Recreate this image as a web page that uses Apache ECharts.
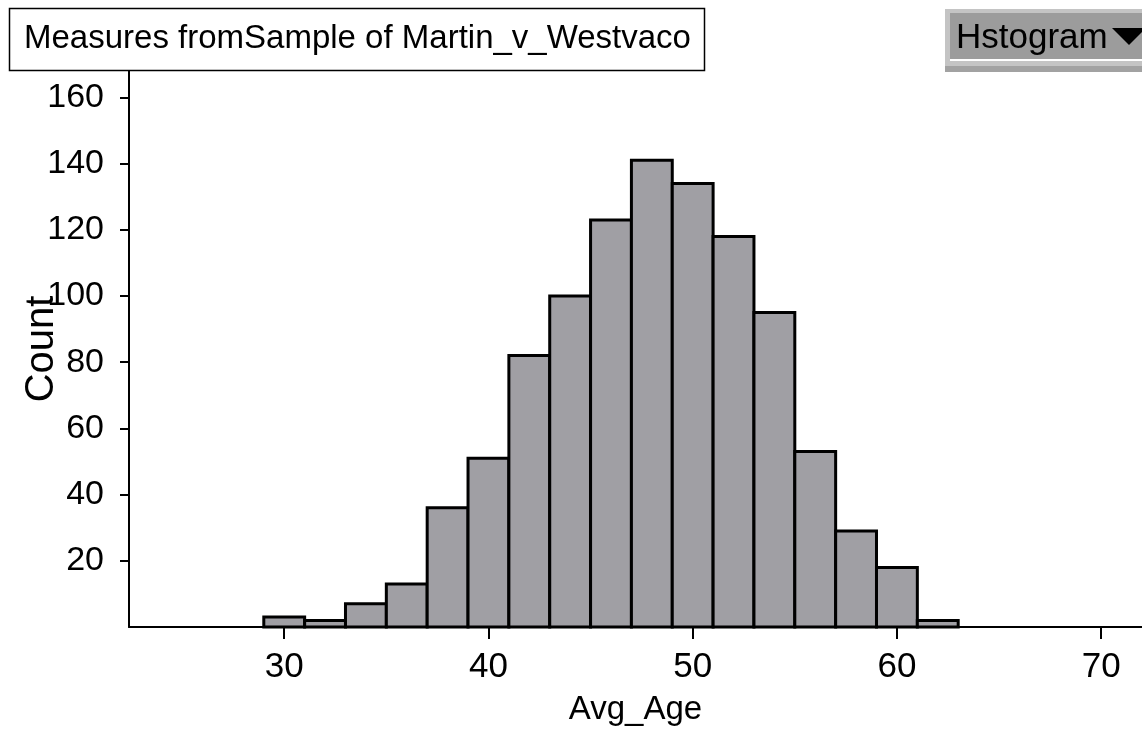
<!DOCTYPE html>
<html>
<head>
<meta charset="utf-8">
<style>
  html, body { margin: 0; padding: 0; background: #fff; }
  #chart { width: 1142px; height: 730px; }
</style>
<script src="https://cdn.jsdelivr.net/npm/echarts@6/dist/echarts.min.js"></script>
</head>
<body>
<div id="chart"></div>
<script>
// histogram bins (Avg_Age), width 2
const binStarts = [29, 31, 33, 35, 37, 39, 41, 43, 45, 47, 49, 51, 53, 55, 57, 59, 61]
const binWidth = 2
const counts = [3, 2, 7, 13, 36, 51, 82, 100, 123, 141, 134, 118, 95, 53, 29, 18, 2]
const xTicks = [30, 40, 50, 60, 70]
const yTicks = [20, 40, 60, 80, 100, 120, 140, 160]

const font = '"Liberation Sans", Arial, sans-serif'

const chart = echarts.init(document.getElementById('chart'))

chart.setOption({
  animation: false,
  grid: {
    left: 129,
    right: 0,
    top: 71,
    bottom: 103,
    containLabel: false,
    outerBoundsMode: 'none'
  },
  xAxis: {
    type: 'value',
    min: 22.4,
    max: 72,
    name: 'Avg_Age',
    nameLocation: 'middle',
    nameGap: 66,
    nameMoveOverlap: false,
    nameTextStyle: { color: '#000', fontSize: 33, fontFamily: font },
    splitLine: { show: false },
    axisLine: { show: true, onZero: false, lineStyle: { color: '#000', width: 2 } },
    axisTick: { show: true, length: 12, customValues: xTicks, lineStyle: { color: '#000', width: 2 } },
    axisLabel: { customValues: xTicks, color: '#000', fontSize: 35, fontFamily: font, margin: 23 }
  },
  yAxis: {
    type: 'value',
    min: 0,
    max: 168,
    name: 'Count',
    nameLocation: 'middle',
    nameGap: 67,
    nameMoveOverlap: false,
    nameTextStyle: { color: '#000', fontSize: 40, fontFamily: font },
    splitLine: { show: false },
    axisLine: { show: true, lineStyle: { color: '#000', width: 2 } },
    axisTick: { show: true, length: 9, customValues: yTicks, lineStyle: { color: '#000', width: 2 } },
    axisLabel: { customValues: yTicks, color: '#000', fontSize: 34, fontFamily: font, margin: 25 }
  },
  series: [
    {
      type: 'custom',
      data: binStarts.map((s, i) => [s, s + binWidth, counts[i]]),
      encode: { x: [0, 1], y: 2 },
      renderItem: function (params, api) {
        const p0 = api.coord([api.value(0), api.value(2)])
        const p1 = api.coord([api.value(1), 0])
        return {
          type: 'rect',
          shape: { x: p0[0], y: p0[1], width: p1[0] - p0[0], height: p1[1] - p0[1] },
          style: { fill: '#a09fa4', stroke: '#000', lineWidth: 3 }
        }
      }
    }
  ],
  graphic: [
    {
      type: 'rect',
      shape: { x: 9.5, y: 8.5, width: 695, height: 62 },
      style: { fill: '#fff', stroke: '#000', lineWidth: 1.5 }
    },
    {
      type: 'text',
      x: 24,
      y: 39,
      style: {
        text: 'Measures fromSample of Martin_v_Westvaco',
        fill: '#000',
        font: '33px ' + font,
        verticalAlign: 'middle'
      }
    },
    // "Hstogram" drop-down button
    { type: 'rect', shape: { x: 945, y: 9, width: 197, height: 63 }, style: { fill: '#c4c4c4' } },
    { type: 'rect', shape: { x: 950, y: 13, width: 192, height: 46 }, style: { fill: '#9c9c9c' } },
    { type: 'rect', shape: { x: 950, y: 59, width: 192, height: 2 }, style: { fill: '#fff' } },
    { type: 'rect', shape: { x: 945, y: 66, width: 197, height: 6 }, style: { fill: '#a2a2a2' } },
    {
      type: 'text',
      x: 956,
      y: 38,
      style: { text: 'Hstogram', fill: '#000', font: '35px ' + font, verticalAlign: 'middle' }
    },
    {
      type: 'polygon',
      shape: { points: [[1112, 28], [1146, 28], [1129, 45]] },
      style: { fill: '#000' }
    }
  ]
})
</script>
</body>
</html>
